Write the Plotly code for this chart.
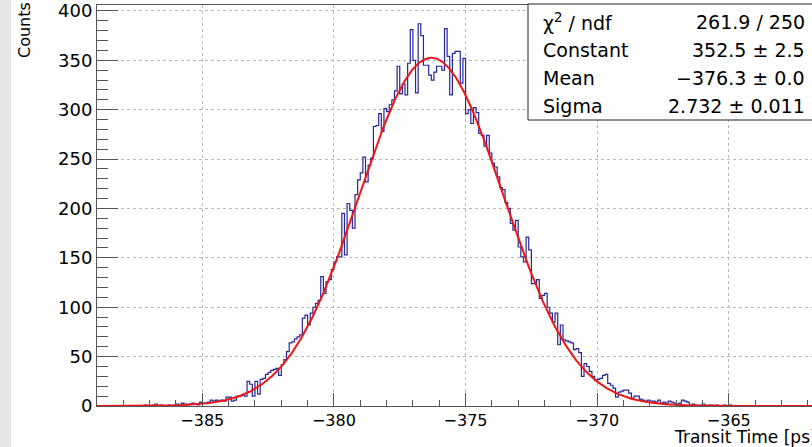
import numpy as np
import plotly.graph_objects as go

# ---------------- data ----------------
BIN_LOW = -389.0
BIN_WIDTH = 0.1
COUNTS = [
    0, 0, 0, 0, 0, 0, 0, 0, 0, 0,
    0, 0, 0, 0, 0, 0, 0, 0, 1, 0,
    0, 1, 2, 0, 1, 0, 0, 1, 0, 1,
    2, 1, 3, 2, 1, 2, 3, 2, 1, 4,
    3, 3, 4, 6, 5, 6, 5, 6, 5, 9,
    9, 5, 6, 10, 10, 11, 10, 25, 22, 10,
    25, 12, 27, 28, 32, 34, 36, 37, 38, 31,
    42, 47, 55, 64, 65, 68, 70, 72, 89, 92,
    82, 94, 100, 104, 107, 131, 114, 126, 128, 138,
    146, 151, 151, 195, 153, 205, 198, 180, 214, 229,
    236, 252, 227, 244, 251, 283, 284, 296, 278, 301,
    298, 305, 310, 319, 344, 316, 326, 315, 347, 381,
    350, 317, 387, 375, 345, 345, 335, 330, 338, 344,
    344, 340, 382, 354, 315, 357, 359, 359, 327, 352,
    296, 300, 286, 302, 297, 276, 274, 263, 274, 256,
    246, 242, 232, 221, 219, 206, 200, 185, 178, 188,
    161, 151, 146, 171, 158, 124, 124, 128, 109, 112,
    114, 100, 94, 85, 94, 62, 82, 67, 66, 65,
    64, 57, 58, 54, 30, 43, 40, 35, 30, 26,
    27, 28, 31, 32, 23, 21, 18, 9, 14, 15,
    16, 16, 13, 8, 10, 10, 7, 6, 5, 6,
    5, 5, 4, 6, 3, 4, 3, 5, 4, 3,
    2, 3, 6, 5, 4, 1, 2, 1, 0, 1,
    2, 0, 1, 1, 0, 1, 0, 0, 1, 0, 1,
]

FIT_CONSTANT = 352.5
FIT_MEAN = -376.3
FIT_SIGMA = 2.732

X_RANGE = [-389.0, -361.84]
Y_RANGE = [0, 406]
X_MAJOR_DTICK = 5
X_MINOR_DTICK = 1
Y_MAJOR_DTICK = 50
Y_MINOR_DTICK = 10

X_TITLE = "Transit Time [ps]"
Y_TITLE = "Counts"
STATS_LABELS = ["χ<sup>2</sup> / ndf", "Constant", "Mean", "Sigma"]
STATS_VALUES = ["261.9 / 250", "352.5 ± 2.5", "−376.3 ± 0.0", "2.732 ± 0.011"]

# ---------------- layout geometry ----------------
W, H = 812, 447
ML, MR, MT, MB = 97, 0, 5, 41
PW = W - ML - MR
PH = H - MT - MB


def px(xp):
    return (xp - ML) / PW


def py(yp):
    return (H - MB - yp) / PH


FONT = "DejaVu Sans"
AXIS_COL = "#555555"
GRID_COL = "#b8b8b8"

# ---------------- traces ----------------
n = len(COUNTS)
edges = [BIN_LOW + i * BIN_WIDTH for i in range(n + 1)]
hist_x = edges
hist_y = COUNTS + [0]

fit_x = np.linspace(X_RANGE[0], X_RANGE[1], 800)
fit_y = FIT_CONSTANT * np.exp(-0.5 * ((fit_x - FIT_MEAN) / FIT_SIGMA) ** 2)

fig = go.Figure()
fig.add_trace(go.Scatter(
    x=hist_x, y=hist_y, mode="lines", line_shape="hv",
    line=dict(color="#26269a", width=1.2), hoverinfo="skip",
))
fig.add_trace(go.Scatter(
    x=fit_x, y=fit_y, mode="lines",
    line=dict(color="#ee1515", width=2), hoverinfo="skip",
))

# ---------------- axes ----------------
fig.update_xaxes(
    range=X_RANGE, tick0=-385, dtick=X_MAJOR_DTICK,
    ticks="inside", ticklen=13, tickwidth=1, tickcolor=AXIS_COL,
    showline=True, linecolor=AXIS_COL, linewidth=1, mirror=True,
    showgrid=True, gridcolor=GRID_COL, griddash="dot", gridwidth=1,
    zeroline=False,
    tickfont=dict(family=FONT, size=16, color="black"),
    minor=dict(dtick=X_MINOR_DTICK, tick0=-385, ticks="inside", ticklen=6,
               tickcolor=AXIS_COL, showgrid=False),
)
fig.update_yaxes(
    range=Y_RANGE, tick0=0, dtick=Y_MAJOR_DTICK,
    ticks="inside", ticklen=21, tickwidth=1, tickcolor=AXIS_COL,
    showline=True, linecolor=AXIS_COL, linewidth=1,
    showgrid=True, gridcolor=GRID_COL, griddash="dot", gridwidth=1,
    zeroline=False,
    tickfont=dict(family=FONT, size=18, color="black"),
    minor=dict(dtick=Y_MINOR_DTICK, tick0=0, ticks="inside", ticklen=11,
               tickcolor=AXIS_COL, showgrid=False),
)

# ---------------- decorations ----------------
shapes = [
    dict(type="rect", xref="paper", yref="paper",
         x0=px(0), x1=px(11), y0=py(H), y1=py(0),
         fillcolor="#e6e6e6", line=dict(width=0), layer="below"),
    dict(type="rect", xref="paper", yref="paper",
         x0=px(528), x1=px(840), y0=py(120), y1=py(4),
         fillcolor="white", line=dict(color="#222222", width=1), layer="above"),
]

annotations = []
row_y = [22, 50, 78, 106]
for lab, val, yy in zip(STATS_LABELS, STATS_VALUES, row_y):
    annotations.append(dict(
        xref="paper", yref="paper", x=px(541), y=py(yy),
        xanchor="left", yanchor="middle", text=lab, showarrow=False,
        font=dict(family=FONT, size=19, color="black")))
    annotations.append(dict(
        xref="paper", yref="paper", x=px(807), y=py(yy),
        xanchor="right", yanchor="middle", text=val, showarrow=False,
        font=dict(family=FONT, size=19, color="black")))

annotations.append(dict(
    xref="paper", yref="paper", x=px(819), y=py(437),
    xanchor="right", yanchor="middle", text=X_TITLE, showarrow=False,
    font=dict(family=FONT, size=17, color="black")))
annotations.append(dict(
    xref="paper", yref="paper", x=px(24), y=py(30),
    xanchor="center", yanchor="middle", text=Y_TITLE, textangle=-90,
    showarrow=False, font=dict(family=FONT, size=16, color="black")))

fig.update_layout(
    width=W, height=H,
    margin=dict(l=ML, r=MR, t=MT, b=MB, pad=0),
    paper_bgcolor="white", plot_bgcolor="white",
    showlegend=False, template="none",
    shapes=shapes, annotations=annotations,
)

fig.write_html("out.html")
